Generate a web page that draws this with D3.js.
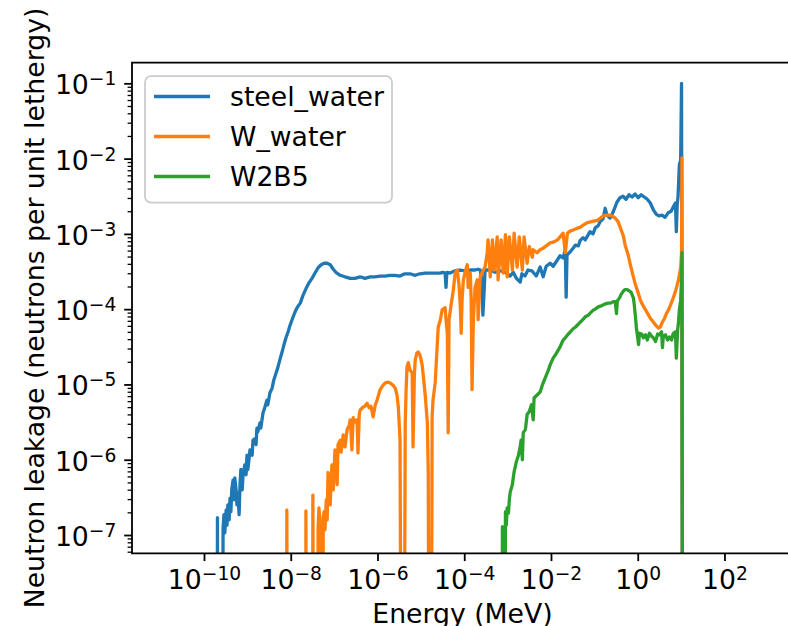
<!DOCTYPE html>
<html>
<head>
<meta charset="utf-8">
<script src="https://cdn.jsdelivr.net/npm/d3@7"></script>
<style>
  body { margin: 0; background: #fff; }
  svg { display: block; }
  text { font-family: "DejaVu Sans", sans-serif; fill: #000; }
</style>
</head>
<body>
<div id="chart"></div>
<script>
// values: [log10 energy (MeV), log10 leakage]; null = empty bin
var steelWater = [[-9.70,null],[-9.69,-6.77],[-9.67,null],[-9.59,null],[-9.56,-6.91],[-9.54,-6.73],[-9.52,-6.97],
  [-9.49,-6.67],[-9.47,-6.87],[-9.45,-6.60],[-9.42,-6.80],[-9.40,-6.51],[-9.38,-6.69],[-9.36,-6.40],[-9.33,-6.27],
  [-9.31,-6.53],[-9.29,-6.24],[-9.26,-6.40],[-9.24,-6.60],[-9.22,-6.44],[-9.19,-6.73],[-9.17,-6.33],[-9.15,-6.13],
  [-9.12,-6.40],[-9.10,-6.20],[-9.06,-6.07],[-9.03,-6.20],[-9.01,-5.94],[-8.99,-6.13],[-8.96,-5.98],[-8.94,-5.87],
  [-8.89,-5.94],[-8.87,-5.74],[-8.83,-5.72],[-8.80,-5.80],[-8.78,-5.58],[-8.76,-5.63],[-8.71,-5.51],[-8.69,-5.58],
  [-8.64,-5.38],[-8.60,-5.31],[-8.55,-5.21],[-8.53,-5.27],[-8.48,-5.11],[-8.43,-5.05],[-8.39,-4.94],[-8.34,-4.85],
  [-8.30,-4.78],[-8.25,-4.67],[-8.20,-4.57],[-8.16,-4.48],[-8.11,-4.38],[-8.06,-4.30],[-8.02,-4.22],[-7.97,-4.14],
  [-7.93,-4.08],[-7.88,-4.01],[-7.83,-3.96],[-7.78,-3.92],[-7.72,-3.82],[-7.65,-3.73],[-7.58,-3.65],[-7.51,-3.59],
  [-7.44,-3.52],[-7.37,-3.45],[-7.30,-3.41],[-7.23,-3.39],[-7.16,-3.39],[-7.09,-3.41],[-7.02,-3.47],[-6.96,-3.51],
  [-6.86,-3.55],[-6.75,-3.57],[-6.63,-3.59],[-6.52,-3.59],[-6.40,-3.57],[-6.29,-3.59],[-6.17,-3.57],[-6.06,-3.57],
  [-5.94,-3.56],[-5.83,-3.56],[-5.71,-3.55],[-5.60,-3.55],[-5.48,-3.56],[-5.37,-3.53],[-5.25,-3.53],[-5.13,-3.55],
  [-5.02,-3.53],[-4.90,-3.52],[-4.79,-3.52],[-4.67,-3.52],[-4.56,-3.52],[-4.49,-3.51],[-4.44,-3.52],[-4.42,-3.71],
  [-4.40,-3.51],[-4.33,-3.52],[-4.21,-3.49],[-4.10,-3.48],[-3.98,-3.49],[-3.87,-3.48],[-3.75,-3.48],[-3.68,-3.47],
  [-3.63,-3.48],[-3.59,-3.64],[-3.57,-4.08],[-3.54,-3.74],[-3.52,-3.48],[-3.40,-3.48],[-3.29,-3.51],[-3.17,-3.49],
  [-3.06,-3.51],[-2.94,-3.56],[-2.87,-3.51],[-2.80,-3.59],[-2.71,-3.64],[-2.67,-3.53],[-2.60,-3.56],[-2.53,-3.48],
  [-2.44,-3.49],[-2.34,-3.56],[-2.25,-3.44],[-2.18,-3.57],[-2.11,-3.43],[-2.02,-3.39],[-1.95,-3.43],[-1.88,-3.37],
  [-1.79,-3.29],[-1.72,-3.32],[-1.67,-3.21],[-1.65,-3.84],[-1.63,-3.28],[-1.56,-3.24],[-1.49,-3.19],[-1.44,-3.15],
  [-1.37,-3.16],[-1.33,-3.09],[-1.26,-3.05],[-1.21,-3.08],[-1.14,-3.01],[-1.10,-2.97],[-1.03,-3.00],[-0.98,-2.92],
  [-0.91,-2.89],[-0.87,-2.84],[-0.80,-2.80],[-0.75,-2.66],[-0.71,-2.75],[-0.64,-2.79],[-0.59,-2.74],[-0.52,-2.64],
  [-0.48,-2.58],[-0.41,-2.52],[-0.34,-2.50],[-0.27,-2.54],[-0.20,-2.48],[-0.13,-2.51],[-0.06,-2.47],[0.01,-2.52],
  [0.08,-2.48],[0.15,-2.51],[0.22,-2.54],[0.29,-2.59],[0.36,-2.68],[0.43,-2.74],[0.49,-2.76],[0.56,-2.75],
  [0.63,-2.78],[0.70,-2.72],[0.77,-2.70],[0.84,-2.62],[0.87,-2.59],[0.89,-2.97],[0.91,-2.62],[0.93,-2.50],
  [0.96,-2.08],[0.99,-2.02],[1.01,-1.00],[1.04,null]];

var wWater = [[-8.10,null],[-8.09,-6.67],[-8.07,null],[-7.66,null],[-7.65,-6.68],[-7.64,null],[-7.50,null],
  [-7.49,-6.47],[-7.46,null],[-7.39,null],[-7.37,-6.93],[-7.35,-6.64],[-7.32,-6.87],[-7.30,null],[-7.28,null],
  [-7.25,-6.76],[-7.23,-6.69],[-7.21,-6.93],[-7.18,-6.53],[-7.16,-6.80],[-7.14,-6.17],[-7.12,-6.47],[-7.09,-6.60],
  [-7.07,-6.27],[-7.05,-6.07],[-7.02,-6.40],[-7.00,-6.13],[-6.98,-5.87],[-6.95,-6.03],[-6.93,-6.33],[-6.91,-5.80],
  [-6.86,-5.74],[-6.84,-5.90],[-6.79,-5.67],[-6.75,-5.83],[-6.70,-5.60],[-6.65,-5.54],[-6.63,-5.47],[-6.61,-5.63],
  [-6.59,-5.87],[-6.56,-5.44],[-6.52,-5.50],[-6.47,-5.47],[-6.45,-5.91],[-6.42,-5.40],[-6.40,-5.34],[-6.33,-5.30],
  [-6.29,-5.29],[-6.24,-5.25],[-6.19,-5.31],[-6.15,-5.29],[-6.10,-5.43],[-6.05,-5.27],[-6.01,-5.21],[-5.94,-5.07],
  [-5.87,-5.01],[-5.82,-4.98],[-5.75,-4.97],[-5.71,-4.98],[-5.64,-5.01],[-5.59,-5.05],[-5.55,-5.14],[-5.52,-5.30],
  [-5.50,-5.51],[-5.48,-5.74],[-5.44,null],[-5.40,null],[-5.36,-5.51],[-5.34,-5.07],[-5.32,-4.77],[-5.29,-4.71],
  [-5.25,-4.81],[-5.20,-4.85],[-5.18,-5.83],[-5.15,-4.88],[-5.13,-4.67],[-5.09,-4.58],[-5.06,-4.57],[-5.02,-4.61],
  [-4.97,-4.74],[-4.95,-4.85],[-4.90,-5.14],[-4.85,-5.51],[-4.83,-6.17],[-4.80,null],[-4.77,null],[-4.74,-5.43],
  [-4.72,-5.21],[-4.67,-4.98],[-4.62,-4.45],[-4.60,-4.24],[-4.55,-4.14],[-4.51,-4.01],[-4.44,-3.98],[-4.42,-4.14],
  [-4.39,-4.32],[-4.37,-5.64],[-4.35,-4.14],[-4.32,-4.01],[-4.25,-3.74],[-4.21,-3.52],[-4.16,-3.48],[-4.12,-3.68],
  [-4.09,-3.97],[-4.07,-4.32],[-4.05,-3.88],[-4.02,-3.61],[-3.98,-3.51],[-3.93,-3.41],[-3.91,-3.71],[-3.86,-3.52],
  [-3.84,-3.88],[-3.82,-5.07],[-3.79,-4.14],[-3.75,-3.71],[-3.70,-3.61],[-3.68,-4.14],[-3.63,-3.57],[-3.56,-3.48],
  [-3.52,-3.44],[-3.47,-3.25],[-3.45,-3.08],[-3.40,-3.57],[-3.35,-3.08],[-3.31,-3.48],[-3.24,-3.04],[-3.22,-3.61],
  [-3.15,-3.08],[-3.10,-3.52],[-3.05,-3.01],[-3.01,-3.57],[-2.96,-3.04],[-2.89,-3.48],[-2.85,-2.99],[-2.78,-3.44],
  [-2.73,-3.04],[-2.66,-3.48],[-2.62,-3.04],[-2.55,-3.39],[-2.50,-3.17],[-2.43,-3.31],[-2.41,-3.21],[-2.32,-3.25],
  [-2.25,-3.21],[-2.18,-3.19],[-2.11,-3.16],[-2.02,-3.12],[-1.95,-3.11],[-1.85,-3.08],[-1.79,-3.04],[-1.72,-2.99],
  [-1.67,-3.25],[-1.62,-2.99],[-1.55,-2.96],[-1.49,-2.95],[-1.42,-2.93],[-1.32,-2.91],[-1.25,-2.88],[-1.16,-2.85],
  [-1.09,-2.84],[-1.02,-2.83],[-0.93,-2.82],[-0.86,-2.79],[-0.79,-2.76],[-0.72,-2.75],[-0.65,-2.75],[-0.59,-2.76],
  [-0.52,-2.79],[-0.45,-2.84],[-0.40,-2.92],[-0.33,-3.03],[-0.29,-3.15],[-0.22,-3.28],[-0.17,-3.41],[-0.10,-3.57],
  [-0.05,-3.68],[0.02,-3.80],[0.06,-3.88],[0.13,-3.96],[0.18,-4.01],[0.25,-4.08],[0.29,-4.12],[0.36,-4.17],
  [0.41,-4.21],[0.48,-4.25],[0.52,-4.24],[0.57,-4.17],[0.62,-4.12],[0.66,-4.06],[0.71,-4.01],[0.76,-3.94],
  [0.80,-3.88],[0.85,-3.80],[0.89,-3.72],[0.94,-3.61],[0.99,-3.45],[1.01,-3.25],[1.02,-1.99],[1.04,null]];

var w2b5 = [[-3.13,null],[-3.12,-6.89],[-3.10,null],[-3.07,null],[-3.05,-6.69],[-3.03,-6.87],[-3.01,-6.64],
  [-2.98,-6.71],[-2.96,-6.53],[-2.94,-6.43],[-2.89,-6.33],[-2.85,-6.16],[-2.80,-6.03],[-2.75,-5.94],[-2.71,-5.83],
  [-2.69,-5.74],[-2.66,-6.00],[-2.64,-5.64],[-2.59,-5.60],[-2.55,-5.40],[-2.50,-5.36],[-2.45,-5.27],[-2.41,-5.47],
  [-2.39,-5.18],[-2.32,-5.14],[-2.25,-5.10],[-2.20,-5.01],[-2.13,-4.91],[-2.06,-4.81],[-2.02,-4.74],[-1.95,-4.65],
  [-1.90,-4.61],[-1.83,-4.54],[-1.79,-4.50],[-1.72,-4.41],[-1.67,-4.38],[-1.60,-4.33],[-1.55,-4.30],[-1.49,-4.26],
  [-1.44,-4.24],[-1.37,-4.20],[-1.32,-4.17],[-1.25,-4.13],[-1.21,-4.10],[-1.14,-4.08],[-1.09,-4.05],[-1.02,-4.01],
  [-0.98,-4.00],[-0.91,-3.97],[-0.86,-3.96],[-0.79,-3.94],[-0.75,-3.93],[-0.68,-3.92],[-0.63,-3.92],[-0.56,-3.90],
  [-0.52,-3.90],[-0.49,-4.06],[-0.47,-3.89],[-0.42,-3.85],[-0.38,-3.80],[-0.33,-3.76],[-0.29,-3.74],[-0.24,-3.74],
  [-0.19,-3.76],[-0.15,-3.78],[-0.10,-3.85],[-0.08,-3.94],[-0.05,-4.12],[-0.03,-4.25],[-0.01,-4.34],[0.02,-4.47],
  [0.04,-4.32],[0.09,-4.33],[0.13,-4.38],[0.18,-4.34],[0.22,-4.41],[0.27,-4.32],[0.32,-4.36],[0.36,-4.38],
  [0.41,-4.43],[0.46,-4.33],[0.50,-4.34],[0.55,-4.30],[0.57,-4.51],[0.59,-4.36],[0.64,-4.34],[0.69,-4.41],
  [0.73,-4.37],[0.78,-4.41],[0.82,-4.32],[0.87,-4.30],[0.89,-4.65],[0.92,-4.28],[0.94,-4.17],[0.96,-4.01],
  [0.99,-3.88],[1.01,-3.61],[1.02,-3.25],[1.04,null]];

var seriesNames = ["steel_water", "W_water", "W2B5"];
var seriesColors = ["#1f77b4", "#ff7f0e", "#2ca02c"];
var xTickExps = [-10, -8, -6, -4, -2, 0, 2];
var yTickExps = [-1, -2, -3, -4, -5, -6, -7];
var xLabel = "Energy (MeV)";
var yLabel = "Neutron leakage (neutrons per unit lethergy)";

// layout (figure is cut at the right, the right spine is just outside)
var chartWidth = 788, chartHeight = 626;
var plotLeft = 132, plotTop = 62.7, plotW = 661, plotH = 490.6;
var fontSize = 26.7;

var svg = d3.select("#chart").append("svg")
    .attr("width", chartWidth)
    .attr("height", chartHeight);

var x = d3.scaleLog().domain([Math.pow(10, -11.66), Math.pow(10, 3.58)]).range([0, plotW]);
var y = d3.scaleLog().domain([Math.pow(10, -7.243), Math.pow(10, -0.726)]).range([plotH, 0]);

var g = svg.append("g").attr("transform", "translate(" + plotLeft + "," + plotTop + ")");

svg.append("defs").append("clipPath").attr("id", "plotClip")
  .append("rect").attr("x", 0).attr("y", 0).attr("width", plotW).attr("height", plotH);

// lines
var line = d3.line()
    .x(function(d) { return x(Math.pow(10, d[0])); })
    .y(function(d) { return d[1] === null ? y(1e-12) : y(Math.pow(10, d[1])); });

var allSeries = [steelWater, wWater, w2b5];
var plot = g.append("g").attr("clip-path", "url(#plotClip)");
allSeries.forEach(function(s, i) {
    plot.append("path")
        .datum(s)
        .attr("d", line)
        .attr("fill", "none")
        .attr("stroke", seriesColors[i])
        .attr("stroke-width", 3.3)
        .attr("stroke-linejoin", "round")
        .attr("stroke-linecap", "butt");
});

// axes
function superscript(sel) {
    sel.each(function(d) {
        var t = d3.select(this);
        var e = Math.round(Math.log10(d));
        t.text("10");
        t.append("tspan")
            .attr("font-size", fontSize * 0.7)
            .attr("dy", -9)
            .text((e < 0 ? "\u2212" : "") + Math.abs(e));
    });
}

var xAxis = d3.axisBottom(x)
    .tickValues(xTickExps.map(function(e) { return Math.pow(10, e); }))
    .tickSize(7.8)
    .tickFormat(function() { return ""; });
var gx = g.append("g").attr("transform", "translate(0," + plotH + ")").call(xAxis);
gx.select(".domain").remove();
gx.selectAll(".tick line").attr("stroke", "#000").attr("stroke-width", 1.8);
gx.selectAll(".tick text")
    .attr("y", 36).attr("dy", null)
    .attr("font-size", fontSize)
    .attr("font-family", "DejaVu Sans")
    .call(superscript);

var yMinor = [];
for (var e = -8; e <= -1; e++) {
    for (var k = 2; k <= 9; k++) {
        var v = k * Math.pow(10, e);
        if (v > y.domain()[0] && v < y.domain()[1]) yMinor.push(v);
    }
}
g.append("g").call(d3.axisLeft(y).tickValues(yMinor).tickSize(4.4).tickFormat(function() { return ""; }))
    .call(function(a) { a.select(".domain").remove(); })
    .selectAll(".tick line").attr("stroke", "#000").attr("stroke-width", 1.3);

var yAxis = d3.axisLeft(y)
    .tickValues(yTickExps.map(function(e) { return Math.pow(10, e); }))
    .tickSize(7.8)
    .tickFormat(function() { return ""; });
var gy = g.append("g").call(yAxis);
gy.select(".domain").remove();
gy.selectAll(".tick line").attr("stroke", "#000").attr("stroke-width", 1.8);
gy.selectAll(".tick text")
    .attr("x", -15.6).attr("y", 10.5).attr("dy", null)
    .attr("font-size", fontSize)
    .attr("font-family", "DejaVu Sans")
    .call(superscript);

// spines: left, top, bottom
g.append("path")
    .attr("d", "M" + (plotW + 10) + ",0H0V" + plotH + "H" + (plotW + 10))
    .attr("fill", "none")
    .attr("stroke", "#000")
    .attr("stroke-width", 1.8);

// axis labels
svg.append("text")
    .attr("x", plotLeft + plotW / 2)
    .attr("y", 623)
    .attr("text-anchor", "middle")
    .attr("font-size", fontSize)
    .text(xLabel);
svg.append("text")
    .attr("transform", "translate(44," + (plotTop + plotH / 2) + ") rotate(-90)")
    .attr("text-anchor", "middle")
    .attr("font-size", fontSize)
    .text(yLabel);

// legend
var legend = g.append("g").attr("transform", "translate(13,13.5)");
legend.append("rect")
    .attr("width", 247).attr("height", 126.5)
    .attr("rx", 6)
    .attr("fill", "#fff").attr("fill-opacity", 0.8)
    .attr("stroke", "#cccccc").attr("stroke-width", 1.8);
seriesNames.forEach(function(name, i) {
    var ly = 20.3 + i * 40;
    legend.append("line")
        .attr("x1", 9).attr("x2", 65)
        .attr("y1", ly).attr("y2", ly)
        .attr("stroke", seriesColors[i]).attr("stroke-width", 3.3);
    legend.append("text")
        .attr("x", 85).attr("y", ly + 9.5)
        .attr("font-size", fontSize)
        .text(name);
});
</script>
</body>
</html>
